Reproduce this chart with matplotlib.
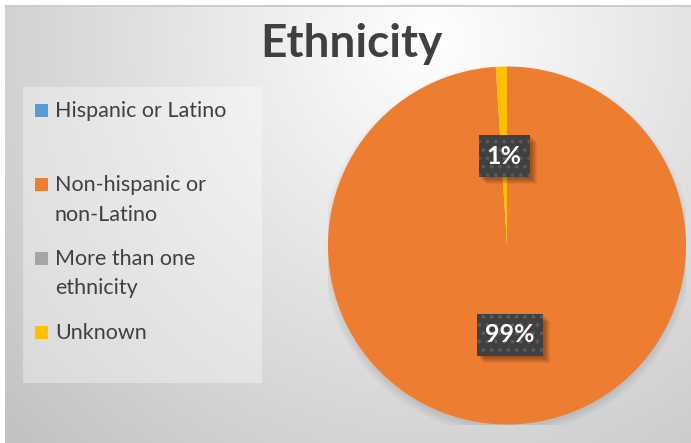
import numpy as np
import matplotlib
import matplotlib.pyplot as plt
from matplotlib.patches import Rectangle, Circle
from matplotlib.transforms import IdentityTransform

categories = ["Hispanic or Latino", "Non-hispanic or\nnon-Latino", "More than one\nethnicity", "Unknown"]
values = [0, 99, 0, 1]
colors = ["#5B9BD5", "#ED7D31", "#A5A5A5", "#FFC000"]
title = "Ethnicity"

plt.rcParams['font.family'] = ['Lato', 'DejaVu Sans']
plt.rcParams['hatch.color'] = '#5a5a5a'
plt.rcParams['hatch.linewidth'] = 1.5

W, H = 691, 443
fig = plt.figure(figsize=(W / 100, H / 100), dpi=100)

# background
bg = fig.add_axes([0, 0, 1, 1])
bg.set_xlim(0, W)
bg.set_ylim(H, 0)
bg.axis('off')
yy, xx = np.mgrid[0:H, 0:W]
d = np.hypot(xx - 430, (yy - 40))
v = 1 - 0.24 * np.clip(d / 580, 0, 1)
img = np.dstack([v, v, v])
img[:5, :] = 1
img[:, :5] = 1
img[5:7, 5:] = 0.8
bg.imshow(img, extent=(0, W, H, 0), interpolation='bilinear', aspect='auto')

# title
bg.text(351, 57, title, ha='center', va='baseline', fontsize=33, fontweight='bold', color='#404040')

# legend
bg.add_patch(Rectangle((23, 87), 239, 296, fc='white', ec='none', alpha=0.35))
for i, (lab, c) in enumerate(zip(categories, colors)):
    yc = 110 + 74 * i
    bg.add_patch(Rectangle((35, yc - 6.5), 13, 13, fc=c, ec='none'))
    for j, line in enumerate(lab.split('\n')):
        bg.text(55, yc + 7 + 29.5 * j, line, ha='left', va='baseline', fontsize=15.5, color='#404040')

# pie
cx, cy, r = 507, 245.5, 179
ax = fig.add_axes([(cx - r) / W, (H - cy - r) / H, 2 * r / W, 2 * r / H])
ax.set_facecolor('none')
for k, rr in enumerate(np.linspace(0.99, 1.035, 8)):
    ax.add_patch(Circle((0.0, -0.025), rr, fc='black', ec='none', alpha=0.012, zorder=0))

wedges, texts, autotexts = ax.pie(
    values, colors=colors, startangle=90, counterclock=False,
    autopct=lambda p: f"{p:.0f}%" if p > 0 else "", pctdistance=0.5,
    textprops=dict(color='white', fontsize=18, fontweight='bold'),
    wedgeprops=dict(linewidth=0, zorder=1))
ax.set_xlim(-1, 1)
ax.set_ylim(-1, 1)
ax.set_aspect('equal')

shown = [t for t in autotexts if t.get_text()]
for t in shown:
    t.set_zorder(5)

fig.canvas.draw()
renderer = fig.canvas.get_renderer()
for t in shown:
    tb = t.get_window_extent(renderer)
    xc = (tb.x0 + tb.x1) / 2
    yc = (tb.y0 + tb.y1) / 2
    bw = tb.width + 16
    bh = 42
    x0, y0 = xc - bw / 2, yc - bh / 2
    for off in [2, 3, 4, 5, 6, 7]:
        ax.add_artist(Rectangle((x0 + off, y0 - off), bw, bh, transform=IdentityTransform(),
                                fc='black', ec='none', alpha=0.06, zorder=3, clip_on=False))
    ax.add_artist(Rectangle((x0, y0), bw, bh, transform=IdentityTransform(),
                            fc='#404040', ec='#5a5a5a', lw=0, hatch='..', zorder=4, clip_on=False))

fig.savefig('out.png', dpi=100)
